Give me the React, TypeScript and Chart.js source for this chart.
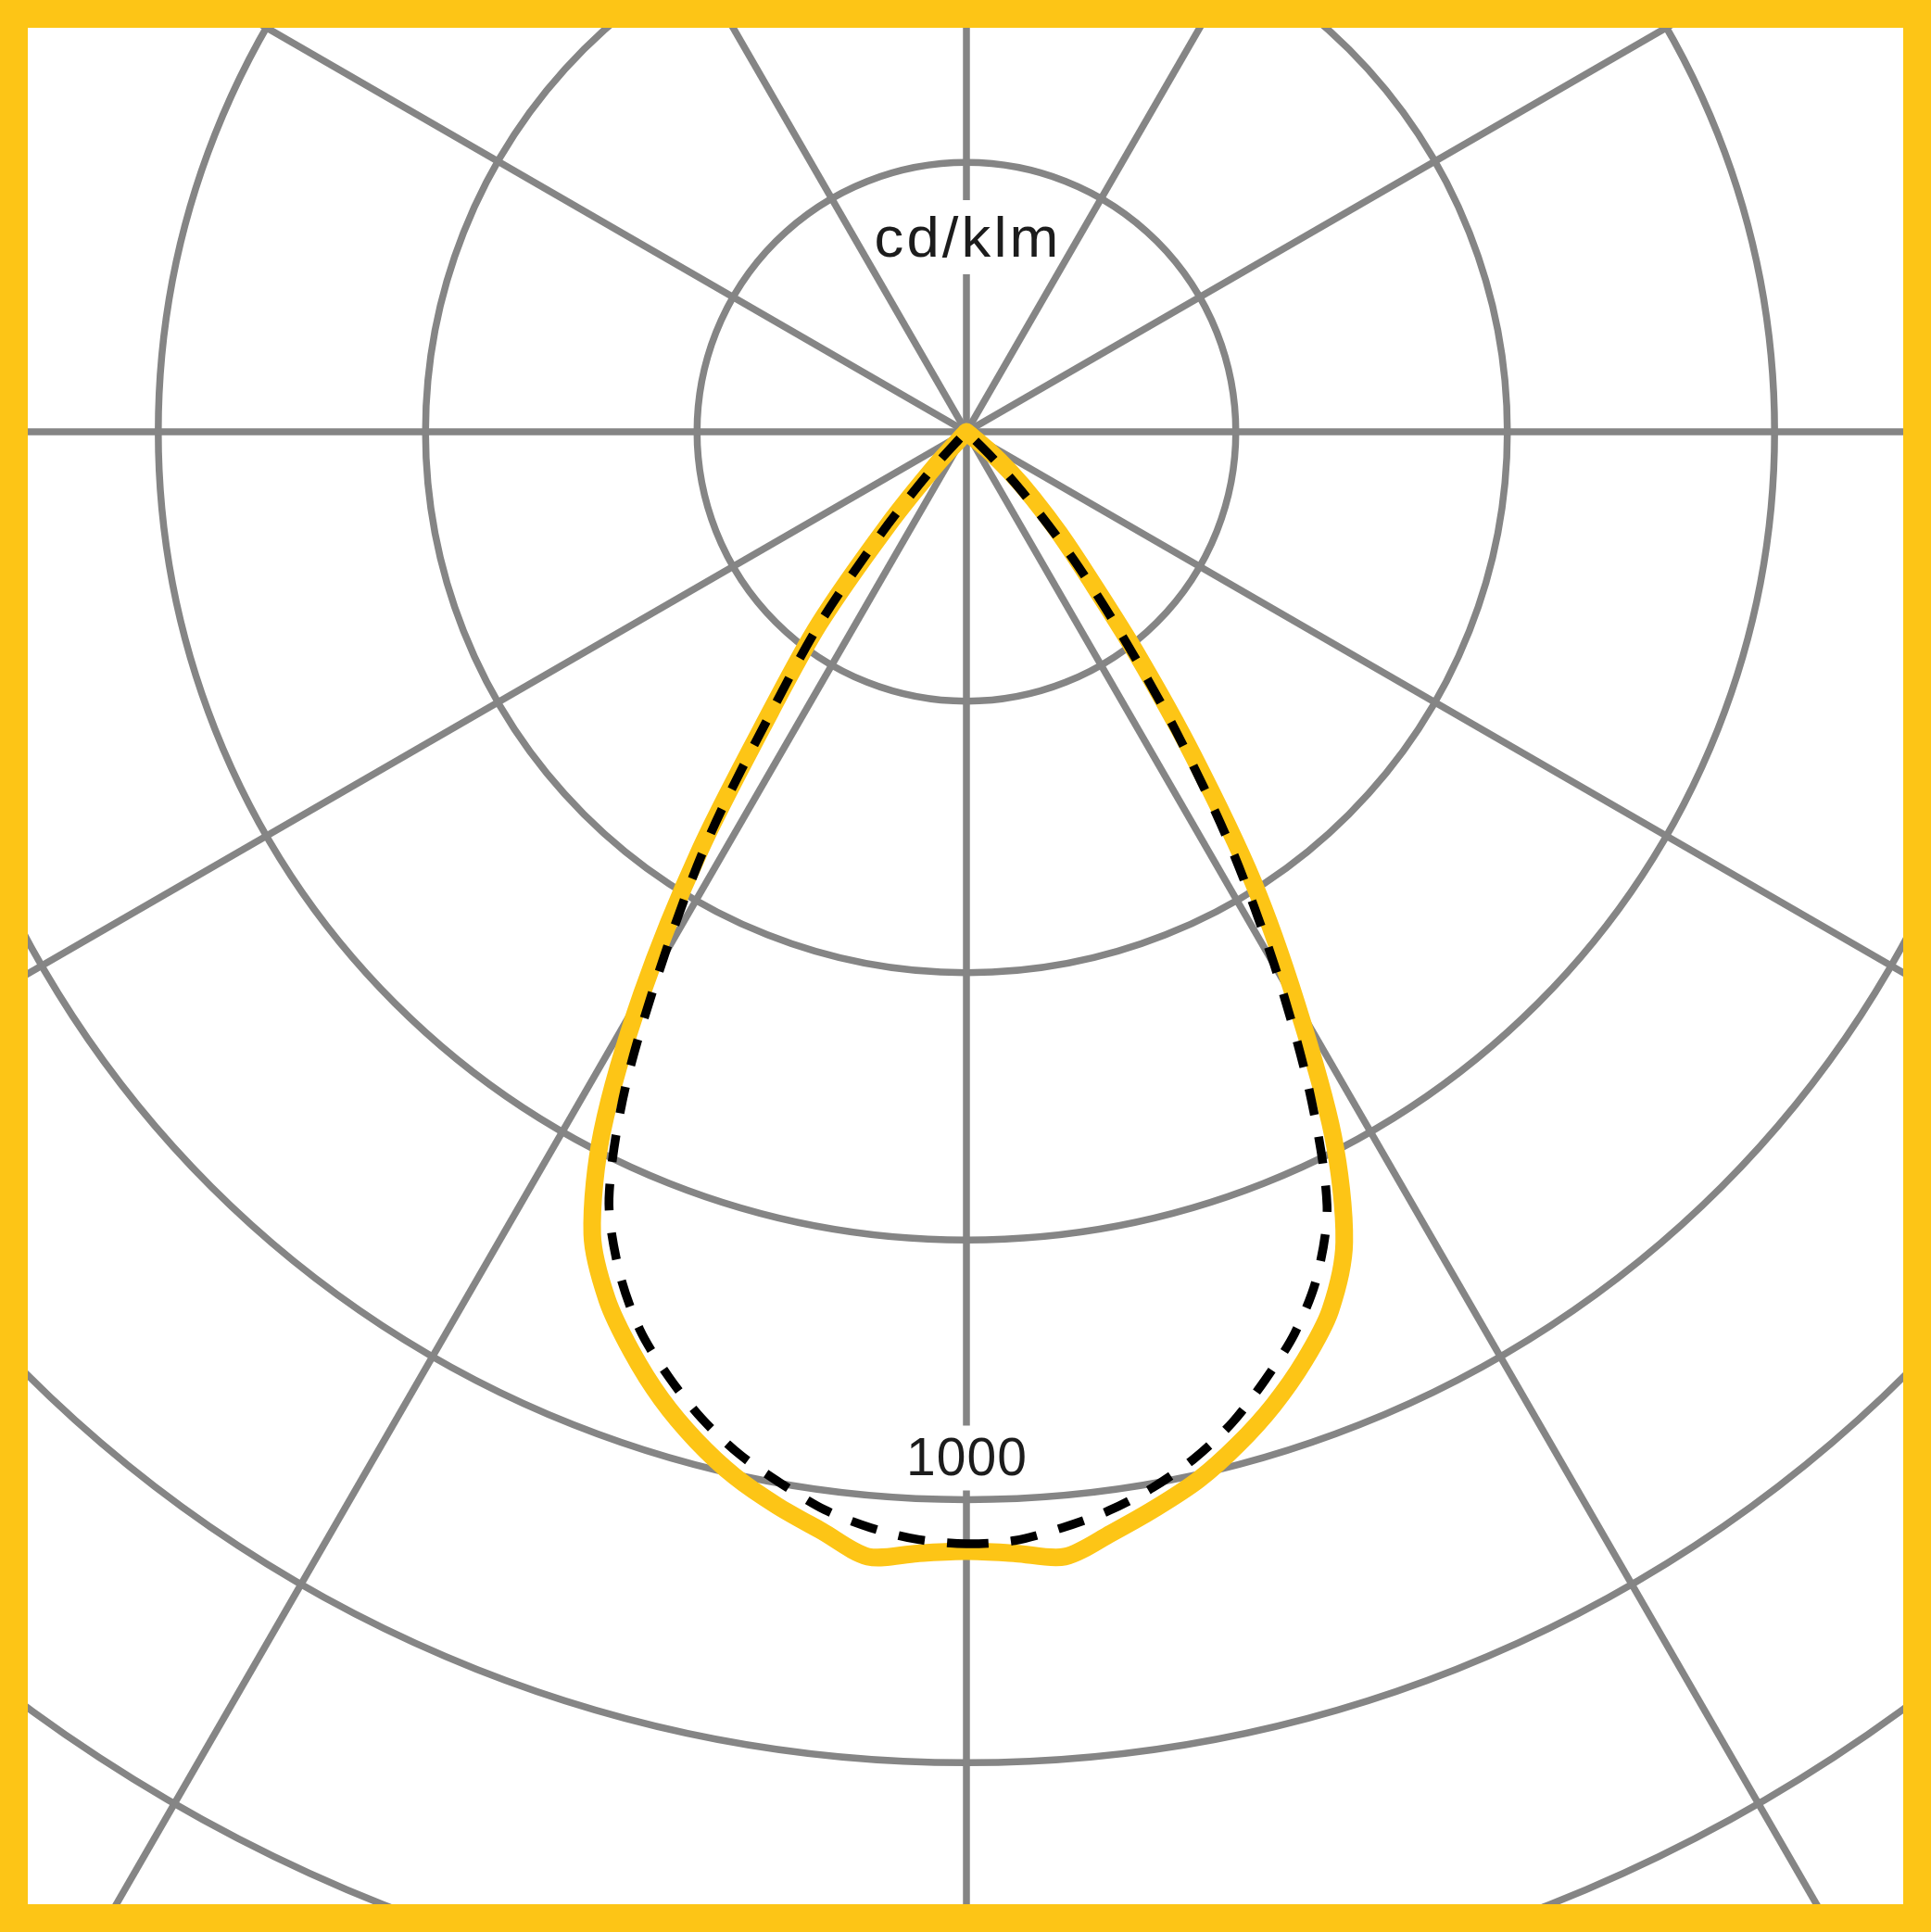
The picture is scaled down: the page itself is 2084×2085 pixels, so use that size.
import { useEffect, useRef } from "react";
import { Chart, registerables, type Plugin, type RadialLinearScale } from "chart.js";

Chart.register(...registerables);

const YELLOW = "#FDC516";
const GRID = "#858585";
const INK = "#1c1c1c";

// gamma angles (degrees from nadir) for the photometric curves
const gammaAngles = [0, 2.5, 5, 7.5, 10, 12.5, 15, 17.5, 20, 22.5, 25, 27.5, 30, 32.5, 35, 37.5, 40, 42.5, 45, 47.5, 50, 52.5];

// C0 - C180 plane, solid yellow (left half = C180, right half = C0)
const c180Values = [1043, 1046, 1052, 1033, 1016, 997, 973, 945, 912, 875, 825, 735, 605, 462, 318, 225, 115, 40, 0, 0, 0, 0];
const c0Values = [1043, 1046, 1052, 1035, 1018, 1000, 977, 951, 921, 886, 833, 740, 615, 497, 368, 260, 178, 128, 88, 55, 25, 0];

// C90 - C270 plane, dashed black (left half = C270, right half = C90)
const c270Values = [1036, 1033, 1025, 1013, 995, 976, 952, 923, 890, 846, 788, 688, 562, 443, 312, 222, 122, 50, 8, 0, 0, 0];
const c90Values = [1036, 1034, 1025, 1014, 999, 980, 956, 926, 894, 853, 795, 692, 574, 458, 340, 235, 155, 85, 35, 0, 0, 0];

// grid circles as they sit in the picture (the outer ones run a little tighter)
const ringValues = [251, 504, 753, 995, 1240, 1476];
const ringLabels = ["", "", "", "1000", "", ""];
const unitLabel = "cd/klm";

const ANGLE_STEP = 2.5;
const R_MAX = 1750;

// frame / canvas geometry
const FRAME_W = 2084;
const FRAME_H = 2085;
const BORDER = 30;
const POLE_X = 1043; // page coords of the polar centre
const POLE_Y = 466;
const CANVAS = 4054; // drawing radius 2027px for R_MAX

// one radar spoke every 2.5deg, index 0 at nadir going clockwise (to the left)
const angleLabels = Array.from({ length: 360 / ANGLE_STEP }, (_, i) => i * ANGLE_STEP);

function planeSeries(left: number[], right: number[]) {
  return angleLabels.map((a) => {
    const onLeft = a <= 180;
    const g = onLeft ? a : 360 - a;
    const idx = gammaAngles.indexOf(g);
    if (idx < 0) return 0;
    return (onLeft ? left : right)[idx];
  });
}

const FAMILY = "'Liberation Sans', Arial, Helvetica, sans-serif";

function drawText(ctx: CanvasRenderingContext2D, text: string, x: number, y: number, stretch: number, spacing: number) {
  ctx.save();
  ctx.translate(x, y);
  ctx.scale(stretch, 1);
  (ctx as any).letterSpacing = `${spacing}px`;
  ctx.fillText(text, spacing / 2, 0);
  ctx.restore();
}

// Text labels that break the vertical spoke (unit on top, ring value below)
const labelPlugin: Plugin<"radar"> = {
  id: "polarLabels",
  beforeDatasetsDraw(chart) {
    const scale = chart.scales.r as RadialLinearScale;
    const { ctx } = chart;
    const cx = scale.xCenter;
    const cy = scale.yCenter;

    ctx.save();
    ctx.textAlign = "center";
    ctx.textBaseline = "alphabetic";

    // unit label above the pole
    const unitBase = cy - 189;
    ctx.fillStyle = "#fff";
    ctx.fillRect(cx - 16, unitBase - 61, 32, 80);
    ctx.fillStyle = INK;
    ctx.font = `61px ${FAMILY}`;
    drawText(ctx, unitLabel, cx, unitBase, 1.04, 3);

    // ring value labels, sitting just above their circle at nadir
    ctx.font = `57px ${FAMILY}`;
    ringValues.forEach((v, i) => {
      const text = ringLabels[i];
      if (!text) return;
      const base = cy + scale.getDistanceFromCenterForValue(v) - 26;
      ctx.fillStyle = "#fff";
      ctx.fillRect(cx - 16, base - 54, 32, 70);
      ctx.fillStyle = INK;
      drawText(ctx, text, cx, base, 1, 1);
    });
    ctx.restore();
  },
};

export default function App() {
  const canvasRef = useRef<HTMLCanvasElement>(null);

  useEffect(() => {
    if (!canvasRef.current) return;

    const chart = new Chart(canvasRef.current, {
      type: "radar",
      plugins: [labelPlugin],
      data: {
        labels: angleLabels.map((a) => `${a}°`),
        datasets: [
          {
            label: "C90 - C270",
            data: planeSeries(c270Values, c90Values),
            borderColor: "#000",
            borderWidth: 9.5,
            borderDash: [29, 24],
            borderDashOffset: 8,
            borderCapStyle: "butt",
            tension: 0.3,
            pointRadius: 0,
            fill: false,
          },
          {
            label: "C0 - C180",
            data: planeSeries(c180Values, c0Values),
            borderColor: YELLOW,
            borderWidth: 19,
            borderJoinStyle: "round",
            borderCapStyle: "round",
            tension: 0.3,
            pointRadius: 0,
            fill: false,
          },
        ],
      },
      options: {
        animation: false,
        responsive: false,
        devicePixelRatio: 1,
        events: [],
        layout: { padding: 0 },
        plugins: {
          legend: { display: false },
          tooltip: { enabled: false },
        },
        scales: {
          r: {
            min: 0,
            max: R_MAX,
            startAngle: 180,
            ticks: { display: false },
            afterBuildTicks: (scale: any) => {
              scale.ticks = [0, ...ringValues].map((value) => ({ value }));
            },
            pointLabels: { display: false },
            grid: { circular: true, color: GRID, lineWidth: 7.5 },
            angleLines: {
              color: GRID,
              lineWidth: (ctx: any) => (ctx.index % 12 === 0 ? 7.5 : 0),
            },
          },
        },
      },
    });

    return () => chart.destroy();
  }, []);

  return (
    <div style={{
      position: "absolute",
      left: 0,
      top: 0,
      width: FRAME_W,
      height: FRAME_H,
      boxSizing: "border-box",
      border: `${BORDER}px solid ${YELLOW}`,
      overflow: "hidden",
      background: "#fff",
    }}>
      <canvas
        ref={canvasRef}
        width={CANVAS}
        height={CANVAS}
        style={{
          position: "absolute",
          left: POLE_X - BORDER - CANVAS / 2,
          top: POLE_Y - BORDER - CANVAS / 2,
          width: CANVAS,
          height: CANVAS,
        }}
      />
    </div>
  );
}
